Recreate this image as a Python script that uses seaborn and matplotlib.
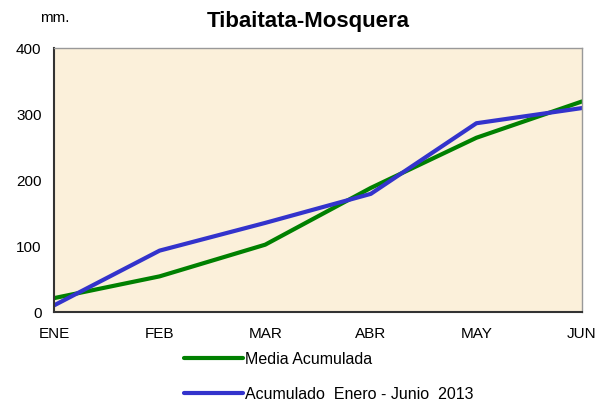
import matplotlib
matplotlib.use("Agg")
import matplotlib.pyplot as plt
import seaborn as sns
import pandas as pd

months = ["ENE", "FEB", "MAR", "ABR", "MAY", "JUN"]
media_acumulada = [21, 54, 102, 188, 264, 319]
acumulado_2013 = [10, 93, 135, 179, 286, 309]
series_names = ["Media Acumulada", "Acumulado  Enero - Junio  2013"]
series_colors = ["#008000", "#3333CC"]

sns.set_style("white")
plt.rcParams["font.family"] = ["Liberation Sans", "DejaVu Sans"]
plt.rcParams["text.color"] = "black"
plt.rcParams["xtick.color"] = "black"
plt.rcParams["ytick.color"] = "black"

# long-form table for seaborn
df = pd.concat([
    pd.DataFrame({"x": range(len(months)), "valor": media_acumulada, "serie": series_names[0]}),
    pd.DataFrame({"x": range(len(months)), "valor": acumulado_2013, "serie": series_names[1]}),
])

fig = plt.figure(figsize=(5.99, 4.03), dpi=100)
ax = fig.add_axes([54 / 599, 1 - 312 / 403, (582 - 54) / 599, (312 - 48) / 403])
ax.set_facecolor("#FBF0DA")

sns.lineplot(data=df, x="x", y="valor", hue="serie", palette=series_colors,
             linewidth=3, ax=ax, legend=False)

ax.set_xlim(0, 5)
ax.set_ylim(0, 400)
ax.set_xticks(range(len(months)))
ax.set_xticklabels(months)
ax.set_yticks([0, 100, 200, 300, 400])
ax.set_xlabel("")
ax.set_ylabel("")
ax.tick_params(axis="both", direction="inout", length=6, width=1, color="#333333",
               labelsize=11, pad=6)
ax.tick_params(axis="x", pad=8)

for side in ["left", "bottom"]:
    ax.spines[side].set_color("#333333")
    ax.spines[side].set_linewidth(1.5)
for side in ["top", "right"]:
    ax.spines[side].set_color("#999999")
    ax.spines[side].set_linewidth(1)

fig.text(308 / 599, 1 - 22 / 403, "Tibaitata-Mosquera", ha="center", va="center",
         fontsize=16, fontweight="bold")
fig.text(40 / 599, 1 - 18 / 403, "mm.", ha="left", va="center", fontsize=11)

handles = [plt.Line2D([], [], color=c, linewidth=3) for c in series_colors]
fig.legend(handles, series_names, loc="upper left", bbox_to_anchor=(176 / 599, 1 - 344 / 403),
           frameon=False, fontsize=11.5, handlelength=3.7, handletextpad=0.1,
           labelspacing=1.25, borderpad=0)

fig.savefig("out.png", dpi=100)
